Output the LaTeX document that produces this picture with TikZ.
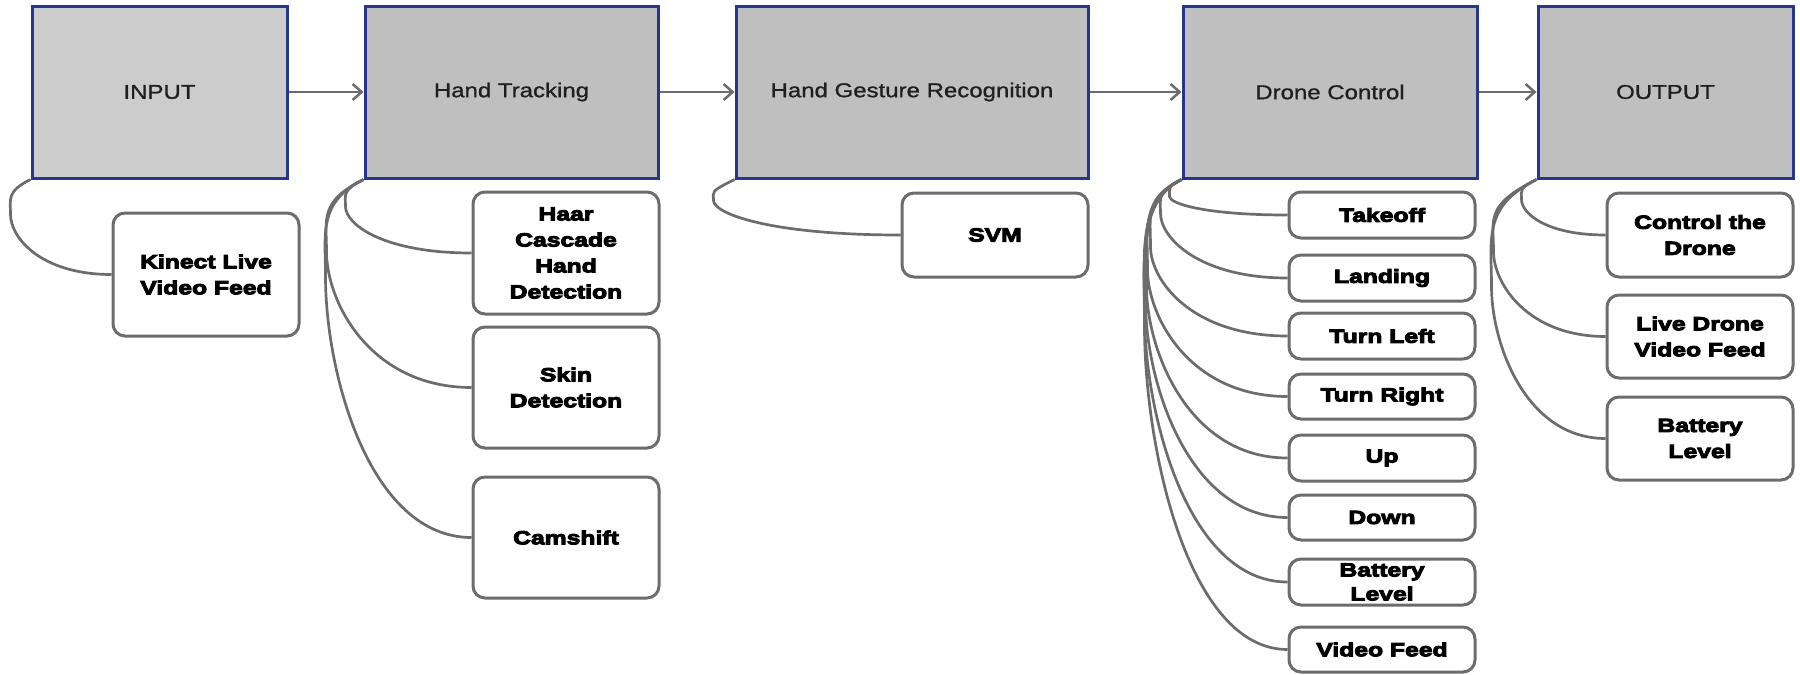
\documentclass[tikz,border=0pt]{standalone}
\usepackage{fontspec}
\usetikzlibrary{arrows.meta}
\newfontfamily\headfont[FakeStretch=1.2,FakeBold=1]{Liberation Sans}
\newfontfamily\itemfont[FakeStretch=1.3,BoldFeatures={FakeBold=5}]{Liberation Sans}
\definecolor{stageblue}{RGB}{38,54,140}
\definecolor{stagegray}{RGB}{191,191,191}
\definecolor{inputgray}{RGB}{204,204,204}
\definecolor{linkgray}{RGB}{108,108,108}
\tikzset{
  stage/.style={draw=stageblue, line width=3pt, fill=stagegray, inner sep=0pt,
    font=\headfont\fontsize{20}{24}\selectfont, text=black!88},
  leaf/.style={draw=linkgray, line width=3pt, fill=white, rounded corners=12pt,
    align=center, inner sep=0pt, font=\itemfont\bfseries\fontsize{19}{26}\selectfont},
  tightleaf/.style={leaf, font=\itemfont\bfseries\fontsize{19}{24}\selectfont},
  link/.style={draw=linkgray, line width=2.7pt},
  flow/.style={draw=linkgray, line width=2.5pt, -{Straight Barb[length=9pt,width=16pt,line width=2.5pt]}}
}
% box from its corners: name, x1, y1, x2, y2, style, text
\newcommand\placebox[7]{%
  \node[#6, minimum width={(#4)-(#2)}, minimum height={(#5)-(#3)}]
    (#1) at ({((#2)+(#4))/2},{((#3)+(#5))/2}) {#7};}
% curved branch: parent, child, turning offset (lx,ly), vertical pull, horizontal pull
\newcommand\branch[6]{%
  \draw[link] (#1.south west) .. controls +({1.2*(#3)},{-0.6*(#3)}) and +(0,{-0.45*(#4)}) .. ++(#3,#4)
    .. controls +(0,#5) and +(-#6,0) .. (#2.west);}
\begin{document}
\begin{tikzpicture}[x=1pt,y=-1pt]
\useasboundingbox (0,0) rectangle (1800,675);

% main stages
\placebox{in}{32}{6}{287}{178}{stage,fill=inputgray}{INPUT}
\placebox{ht}{365}{6}{658}{178}{stage}{Hand Tracking}
\placebox{hgr}{736}{6}{1088}{178}{stage}{Hand Gesture Recognition}
\placebox{dc}{1183}{6}{1477}{178}{stage}{Drone Control}
\placebox{out}{1538}{6}{1793}{178}{stage}{OUTPUT}

\draw[flow] (in) -- (ht);
\draw[flow] (ht) -- (hgr);
\draw[flow] (hgr) -- (dc);
\draw[flow] (dc) -- (out);

% input details
\placebox{kinect}{113}{213}{299}{336}{leaf}{Kinect Live\\Video Feed}

% tracking details
\placebox{haar}{473}{192}{659}{314}{leaf}{Haar\\Cascade\\Hand\\Detection}
\placebox{skin}{473}{327}{659}{448}{leaf}{Skin\\Detection}
\placebox{cam}{473}{477}{659}{598}{leaf}{Camshift}

% recognition details
\placebox{svm}{902}{193}{1088}{277}{leaf}{SVM}

% control details
\placebox{takeoff}{1289}{192}{1475}{238}{leaf}{Takeoff}
\placebox{landing}{1289}{255}{1475}{301}{leaf}{Landing}
\placebox{tleft}{1289}{313}{1475}{359}{leaf}{Turn Left}
\placebox{tright}{1289}{374}{1475}{419}{leaf}{Turn Right}
\placebox{up}{1289}{435}{1475}{481}{leaf}{Up}
\placebox{down}{1289}{495}{1475}{540}{leaf}{Down}
\placebox{batt}{1289}{559}{1475}{605}{tightleaf}{Battery\\Level}
\placebox{vfeed}{1289}{627}{1475}{672}{leaf}{Video Feed}

% output details
\placebox{ctrl}{1607}{193}{1793}{277}{leaf}{Control the\\Drone}
\placebox{live}{1607}{295}{1793}{378}{leaf}{Live Drone\\Video Feed}
\placebox{obatt}{1607}{397}{1793}{480}{leaf}{Battery\\Level}

% branches
\branch{in}{kinect}{-20}{35}{23}{71}
\branch{ht}{haar}{-18}{27}{18}{88}
\branch{ht}{skin}{-37}{72}{51}{101}
\branch{ht}{cam}{-38}{97}{97}{102}
\branch{hgr}{svm}{-21}{21}{13}{131}
\branch{dc}{takeoff}{-12}{17}{7}{83}
\branch{dc}{landing}{-21}{34}{24}{89}
\branch{dc}{tleft}{-31}{67}{34}{96}
\branch{dc}{tright}{-34}{90}{47}{98}
\branch{dc}{up}{-35}{107}{64}{99}
\branch{dc}{down}{-36}{122}{81}{99}
\branch{dc}{batt}{-37}{134}{100}{100}
\branch{dc}{vfeed}{-37}{147}{120}{100}
\branch{out}{ctrl}{-15}{20}{14}{59}
\branch{out}{live}{-43}{72}{32}{78}
\branch{out}{obatt}{-45}{107}{57}{80}
\end{tikzpicture}
\end{document}
